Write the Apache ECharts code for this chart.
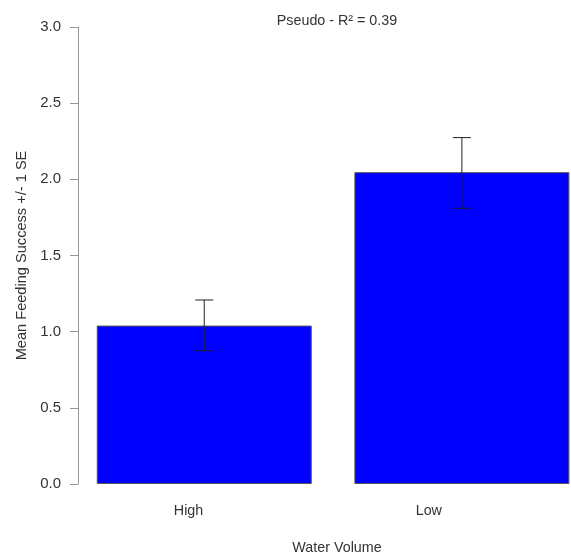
<!DOCTYPE html>
<html>
<head>
<meta charset="utf-8">
<script src="https://cdn.jsdelivr.net/npm/echarts@6/dist/echarts.min.js"></script>
<style>
    html, body { margin: 0; padding: 0; background: #fff; }
    #chart { width: 571px; height: 554px; }
</style>
</head>
<body>
<div id="chart"></div>
<script>
    // data
    var categories = ['High', 'Low'];
    var barPos = [0.7, 1.9];          // bar midpoints (barplot units)
    var labelPos = [0.627, 1.746];    // where the category labels sit
    var means = [1.04, 2.047];
    var seLow = [0.875, 1.81];
    var seHigh = [1.208, 2.274];
    var yTicks = [0, 0.5, 1, 1.5, 2, 2.5, 3];

    var font = 'Liberation Sans, Arial, sans-serif';
    var chart = echarts.init(document.getElementById('chart'));

    var barData = barPos.map(function (x, i) { return [x, means[i]]; });
    var errData = barPos.map(function (x, i) { return [x, seLow[i], seHigh[i]]; });

    var option = {
        animation: false,
        backgroundColor: '#fff',
        title: [
            {
                text: 'Pseudo - R\u00b2 = 0.39',
                left: 332, top: 9, textAlign: 'center',
                textStyle: { fontFamily: font, fontSize: 14.3, fontWeight: 'normal', color: '#333' }
            },
            {
                text: 'Water Volume',
                left: 332, top: 536, textAlign: 'center',
                textStyle: { fontFamily: font, fontSize: 14.3, fontWeight: 'normal', color: '#333' }
            }
        ],
        grid: { left: 78, right: 0, top: 27, bottom: 70 },
        xAxis: {
            type: 'value',
            min: 0.112,
            max: 0.112 + 493 / 214.7,
            splitLine: { show: false },
            axisLine: { show: false },
            axisTick: { show: false },
            axisLabel: {
                customValues: labelPos,
                margin: 20,
                fontFamily: font, fontSize: 14.3, color: '#333',
                formatter: function (v) {
                    var i = labelPos.indexOf(v);
                    return i >= 0 ? categories[i] : '';
                }
            }
        },
        yAxis: {
            type: 'value',
            min: yTicks[0],
            max: yTicks[yTicks.length - 1],
            interval: 0.5,
            name: 'Mean Feeding Success +/- 1 SE',
            nameLocation: 'middle',
            nameGap: 49,
            nameTextStyle: { fontFamily: font, fontSize: 14.6, color: '#333' },
            splitLine: { show: false },
            axisLine: { show: true, lineStyle: { color: '#999', width: 1 } },
            axisTick: { show: true, inside: false, length: 8, lineStyle: { color: '#999' } },
            axisLabel: {
                margin: 17,
                fontFamily: font, fontSize: 15, color: '#333',
                formatter: function (v) { return v.toFixed(1); }
            }
        },
        series: [
            {
                type: 'bar',
                data: barData,
                barWidth: 215,
                itemStyle: { color: '#0000ff', borderColor: '#555', borderWidth: 1 }
            },
            {
                type: 'custom',
                data: errData,
                z: 10,
                renderItem: function (params, api) {
                    var top = api.coord([api.value(0), api.value(2)]);
                    var bot = api.coord([api.value(0), api.value(1)]);
                    var hw = 9;
                    var style = { stroke: '#222', lineWidth: 1 };
                    return {
                        type: 'group',
                        children: [
                            { type: 'line', shape: { x1: top[0], y1: top[1], x2: bot[0], y2: bot[1] }, style: style },
                            { type: 'line', shape: { x1: top[0] - hw, y1: top[1], x2: top[0] + hw, y2: top[1] }, style: style },
                            { type: 'line', shape: { x1: bot[0] - hw, y1: bot[1], x2: bot[0] + hw, y2: bot[1] }, style: style }
                        ]
                    };
                }
            }
        ]
    };

    chart.setOption(option);
    window.onresize = function () { chart.resize(); };
</script>
</body>
</html>
